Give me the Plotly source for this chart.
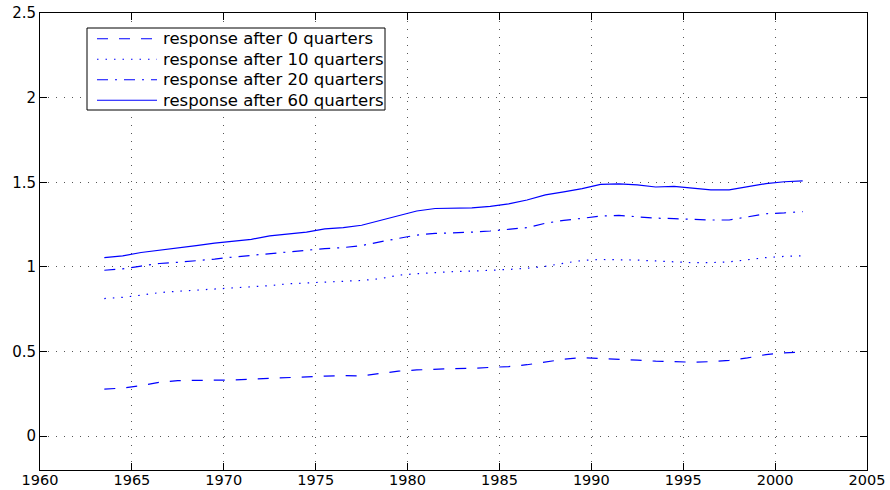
import plotly.graph_objects as go

# Sample dates (mid-year, annual) and impulse-response values
years = [1963.5, 1964.5, 1965.5, 1966.5, 1967.5, 1968.5, 1969.5, 1970.5, 1971.5, 1972.5,
         1973.5, 1974.5, 1975.5, 1976.5, 1977.5, 1978.5, 1979.5, 1980.5, 1981.5, 1982.5,
         1983.5, 1984.5, 1985.5, 1986.5, 1987.5, 1988.5, 1989.5, 1990.5, 1991.5, 1992.5,
         1993.5, 1994.5, 1995.5, 1996.5, 1997.5, 1998.5, 1999.5, 2000.5, 2001.5]

resp_0q = [0.278, 0.284, 0.298, 0.318, 0.328, 0.331, 0.331, 0.332, 0.337, 0.344,
           0.349, 0.350, 0.355, 0.358, 0.356, 0.370, 0.384, 0.391, 0.396, 0.399,
           0.401, 0.405, 0.411, 0.422, 0.438, 0.454, 0.464, 0.460, 0.454, 0.449,
           0.443, 0.438, 0.437, 0.440, 0.448, 0.462, 0.482, 0.492, 0.498]

resp_10q = [0.813, 0.820, 0.833, 0.848, 0.856, 0.862, 0.867, 0.873, 0.879, 0.889,
            0.900, 0.905, 0.908, 0.916, 0.920, 0.930, 0.951, 0.960, 0.967, 0.972,
            0.975, 0.979, 0.985, 0.992, 1.003, 1.022, 1.038, 1.044, 1.044, 1.040,
            1.035, 1.030, 1.025, 1.025, 1.030, 1.042, 1.055, 1.062, 1.066]

resp_20q = [0.980, 0.988, 1.005, 1.020, 1.027, 1.035, 1.046, 1.058, 1.068, 1.078,
            1.090, 1.098, 1.108, 1.114, 1.126, 1.148, 1.166, 1.188, 1.198, 1.201,
            1.205, 1.212, 1.221, 1.232, 1.258, 1.275, 1.287, 1.300, 1.304, 1.294,
            1.288, 1.285, 1.280, 1.277, 1.277, 1.295, 1.314, 1.319, 1.327]

resp_60q = [1.055, 1.065, 1.085, 1.100, 1.115, 1.126, 1.140, 1.150, 1.163, 1.183,
            1.196, 1.205, 1.224, 1.232, 1.246, 1.274, 1.301, 1.330, 1.345, 1.349,
            1.349, 1.358, 1.372, 1.395, 1.425, 1.443, 1.462, 1.487, 1.491, 1.485,
            1.472, 1.476, 1.466, 1.455, 1.455, 1.472, 1.492, 1.503, 1.508]

x_ticks = [1960, 1965, 1970, 1975, 1980, 1985, 1990, 1995, 2000, 2005]
y_ticks = [0, 0.5, 1, 1.5, 2, 2.5]

series = [
    ("response after 0 quarters", resp_0q, "11px,11px"),
    ("response after 10 quarters", resp_10q, "1.5px,7px"),
    ("response after 20 quarters", resp_20q, "11px,7px,2px,7px"),
    ("response after 60 quarters", resp_60q, "solid"),
]

W, H = 890, 490
M = dict(l=40, r=23, t=13, b=20)
PW = W - M["l"] - M["r"]
PH = H - M["t"] - M["b"]


def px_x(px):
    """Pixel column -> paper x."""
    return (px - M["l"]) / PW


def px_y(py):
    """Pixel row -> paper y."""
    return 1 - (py - M["t"]) / PH


fig = go.Figure()
for name, vals, dash in series:
    fig.add_trace(go.Scatter(
        x=years, y=vals, mode="lines", name=name, showlegend=False,
        line=dict(color="#0000ff", width=1.2, dash=dash),
    ))

axis_common = dict(
    showline=True, linecolor="black", linewidth=1, mirror="ticks",
    ticks="inside", ticklen=7, tickcolor="black", tickwidth=1,
    showgrid=True, gridcolor="#555555", gridwidth=1, griddash="1px,7px",
    zeroline=False, automargin=False,
)

fig.update_xaxes(range=[1960, 2005], tickvals=x_ticks, ticklabelstandoff=-3,
                 tickfont=dict(family="DejaVu Sans", size=14.5, color="black"),
                 **axis_common)
fig.update_yaxes(range=[-0.2, 2.5], tickvals=y_ticks,
                 tickfont=dict(family="DejaVu Sans", size=15, color="black"),
                 **axis_common)

# Boxed legend in the upper-left corner
box_l, box_r, box_t, box_b = 87, 385, 28, 110
shapes = [dict(type="rect", xref="paper", yref="paper",
               x0=px_x(box_l), x1=px_x(box_r), y0=px_y(box_b), y1=px_y(box_t),
               line=dict(color="black", width=1), fillcolor="white", layer="above")]
annotations = []
row_h = (box_b - box_t) / len(series)
for i, (name, _, dash) in enumerate(series):
    cy = box_t + row_h * (i + 0.5) + 0.5
    shapes.append(dict(type="line", xref="paper", yref="paper",
                       x0=px_x(97), x1=px_x(157), y0=px_y(cy), y1=px_y(cy),
                       line=dict(color="#0000ff", width=1.2, dash=dash), layer="above"))
    annotations.append(dict(xref="paper", yref="paper", x=px_x(161), y=px_y(cy),
                            xanchor="left", yanchor="middle", showarrow=False,
                            text=name,
                            font=dict(family="DejaVu Sans", size=16.5, color="black")))

fig.update_layout(
    width=W, height=H,
    margin=M,
    paper_bgcolor="white", plot_bgcolor="white",
    showlegend=False,
    shapes=shapes,
    annotations=annotations,
)

fig.write_html("out.html")
